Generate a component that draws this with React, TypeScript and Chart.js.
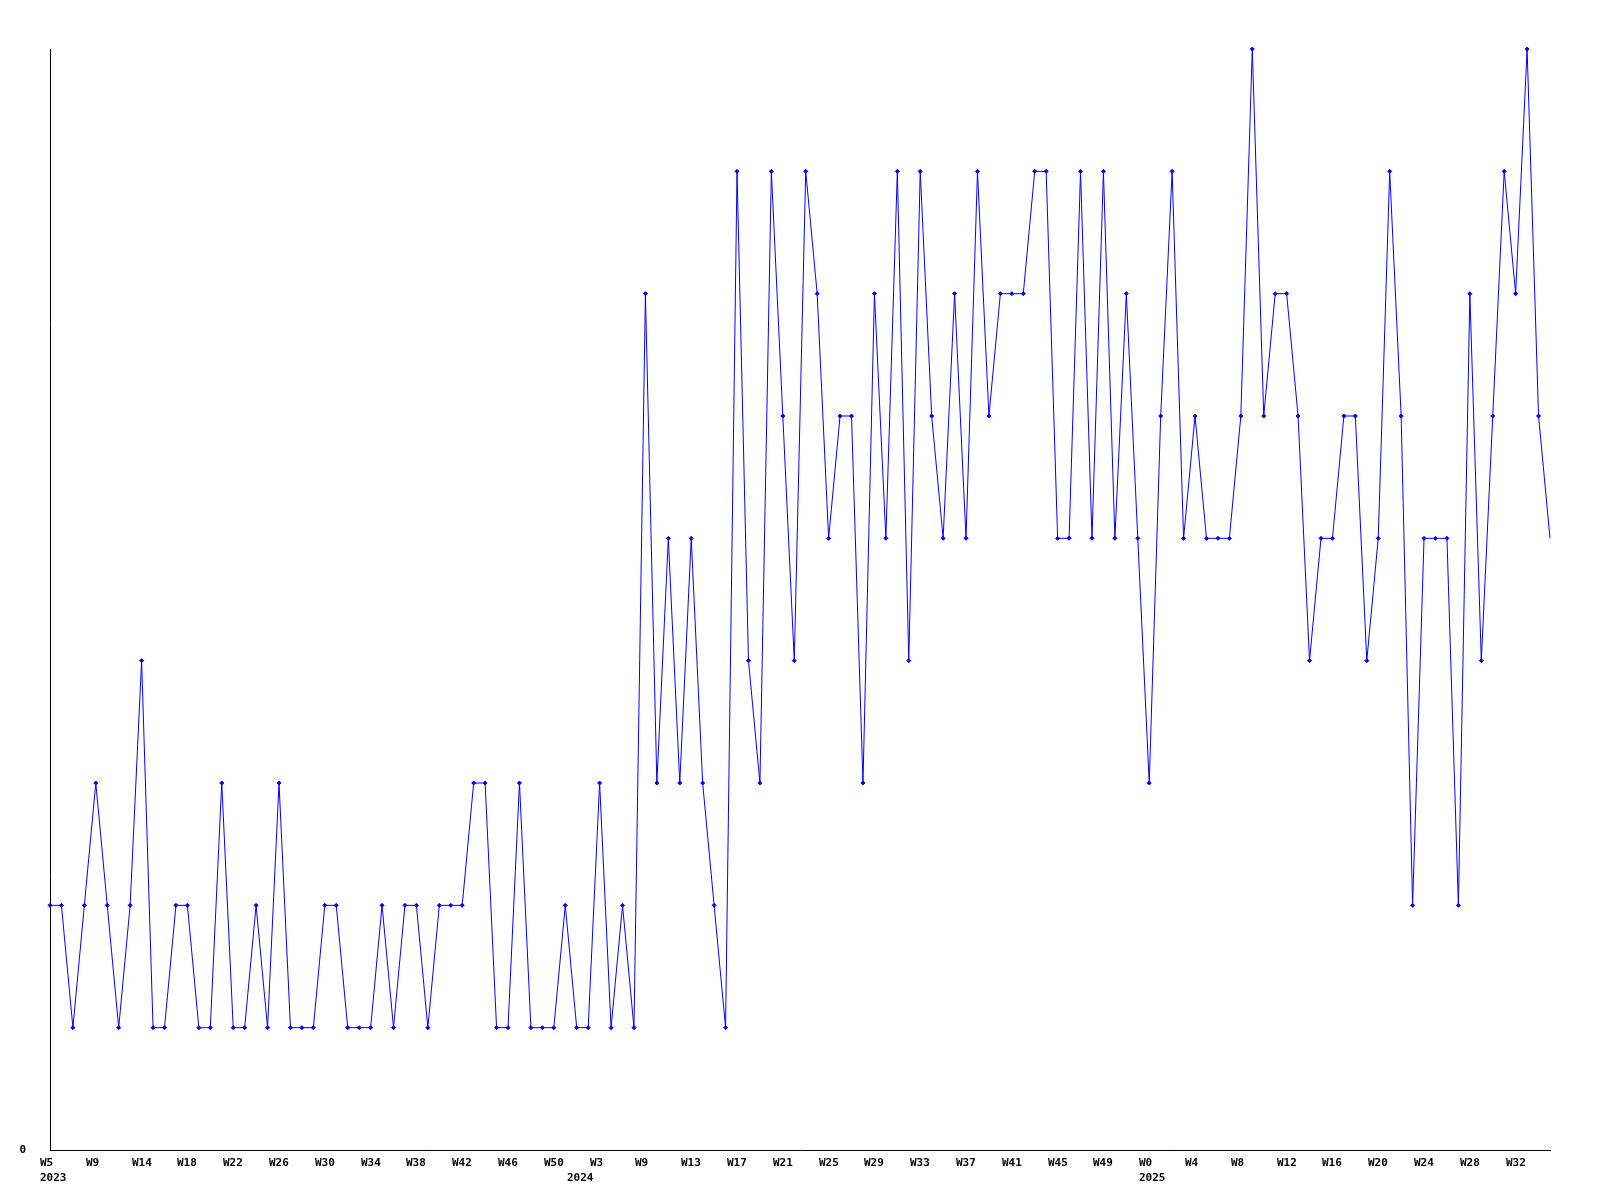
import React, { useEffect, useRef } from 'react';
import { Chart, registerables } from 'chart.js';

Chart.register(...registerables);

// Weekly values (one per point, 132 points)
const values: number[] = [
  2, 2, 1, 2, 3, 2, 1, 2, 4, 1, 1, 2, 2, 1, 1, 3, 1, 1, 2, 1, 3, 1,
  1, 1, 2, 2, 1, 1, 1, 2, 1, 2, 2, 1, 2, 2, 2, 3, 3, 1, 1, 3, 1, 1,
  1, 2, 1, 1, 3, 1, 2, 1, 7, 3, 5, 3, 5, 3, 2, 1, 8, 4, 3, 8, 6,
  4, 8, 7, 5, 6, 6, 3, 7, 5, 8, 4, 8, 6, 5, 7, 5, 8, 6, 7, 7, 7, 8, 8,
  5, 5, 8, 5, 8, 5, 7, 5, 3, 6, 8, 5, 6, 5, 5, 5, 6, 9, 6, 7, 7, 6,
  4, 5, 5, 6, 6, 4, 5, 8, 6, 2, 5, 5, 5, 2, 7, 4, 6, 8, 7, 9, 6, 5,
];

// Week tick labels, one every 4 points
const tickLabels: string[] = [
  'W5', 'W9', 'W14', 'W18', 'W22', 'W26', 'W30', 'W34', 'W38', 'W42', 'W46', 'W50',
  'W3', 'W9', 'W13', 'W17', 'W21', 'W25', 'W29', 'W33', 'W37', 'W41', 'W45', 'W49',
  'W0', 'W4', 'W8', 'W12', 'W16', 'W20', 'W24', 'W28', 'W32',
];
const TICK_EVERY = 4;

// Year markers: year text and the index of the first point of that year
const years: string[] = ['2023', '2024', '2025'];
const yearStart: number[] = [0, 46, 96];

const categories: string[] = values.map((_, i) =>
  i % TICK_EVERY === 0 ? tickLabels[i / TICK_EVERY] ?? '' : ''
);

const FONT_FAMILY = '"DejaVu Sans Mono", monospace';
const FONT = `bold 11px ${FONT_FAMILY}`;

const labelPlugin = {
  id: 'weekYearLabels',
  afterDraw(chart: any) {
    const { ctx } = chart;
    const x = chart.scales.x;
    const bottom = chart.chartArea.bottom;
    ctx.save();
    ctx.font = FONT;
    ctx.fillStyle = '#000000';
    ctx.textAlign = 'left';
    ctx.textBaseline = 'alphabetic';
    categories.forEach((lab, i) => {
      if (!lab) return;
      ctx.fillText(lab, Math.round(x.getPixelForValue(i)) - 10, bottom + 16);
    });
    years.forEach((y, k) => {
      ctx.fillText(y, Math.round(x.getPixelForValue(yearStart[k])) - 10, bottom + 31);
    });
    ctx.restore();
  },
};

export default function App() {
  const canvasRef = useRef<HTMLCanvasElement | null>(null);

  useEffect(() => {
    document.body.style.margin = '0';
    const canvas = canvasRef.current;
    if (!canvas) return;
    const last = values.length - 1;
    const chart = new Chart(canvas, {
      type: 'line',
      data: {
        labels: categories,
        datasets: [
          {
            data: values,
            borderColor: '#0000ff',
            backgroundColor: '#0000ff',
            borderWidth: 1,
            tension: 0,
            fill: false,
            pointStyle: 'rectRot',
            pointRadius: (c: any) => (c.dataIndex === last ? 0 : 2),
            pointBorderWidth: 1,
            pointBorderColor: '#0000ff',
            pointBackgroundColor: '#0000ff',
            clip: false as any,
          },
        ],
      },
      options: {
        animation: false,
        responsive: false,
        devicePixelRatio: 1,
        layout: { padding: { top: 49, right: 50, left: 0, bottom: 0 } },
        plugins: {
          legend: { display: false },
          tooltip: { enabled: false },
        },
        scales: {
          x: {
            type: 'category',
            offset: false,
            grid: { display: false, drawTicks: false },
            border: { display: true, color: '#000000', width: 1 },
            ticks: { display: false },
            afterFit: (s: any) => {
              s.height = 50;
            },
          },
          y: {
            min: 0,
            max: 9,
            grid: { display: false, drawTicks: false },
            border: { display: true, color: '#000000', width: 1 },
            ticks: {
              stepSize: 9,
              padding: 24,
              color: '#000000',
              font: { family: FONT_FAMILY, size: 11, weight: 'bold' },
              callback: (v: any) => (Number(v) === 0 ? '0' : ''),
            },
            afterFit: (s: any) => {
              s.width = 50;
            },
          },
        },
      },
      plugins: [labelPlugin],
    });
    return () => chart.destroy();
  }, []);

  return (
    <div style={{ position: 'absolute', left: 0, top: 0, width: 1600, height: 1200, background: '#ffffff' }}>
      <canvas ref={canvasRef} width={1600} height={1200} />
    </div>
  );
}
